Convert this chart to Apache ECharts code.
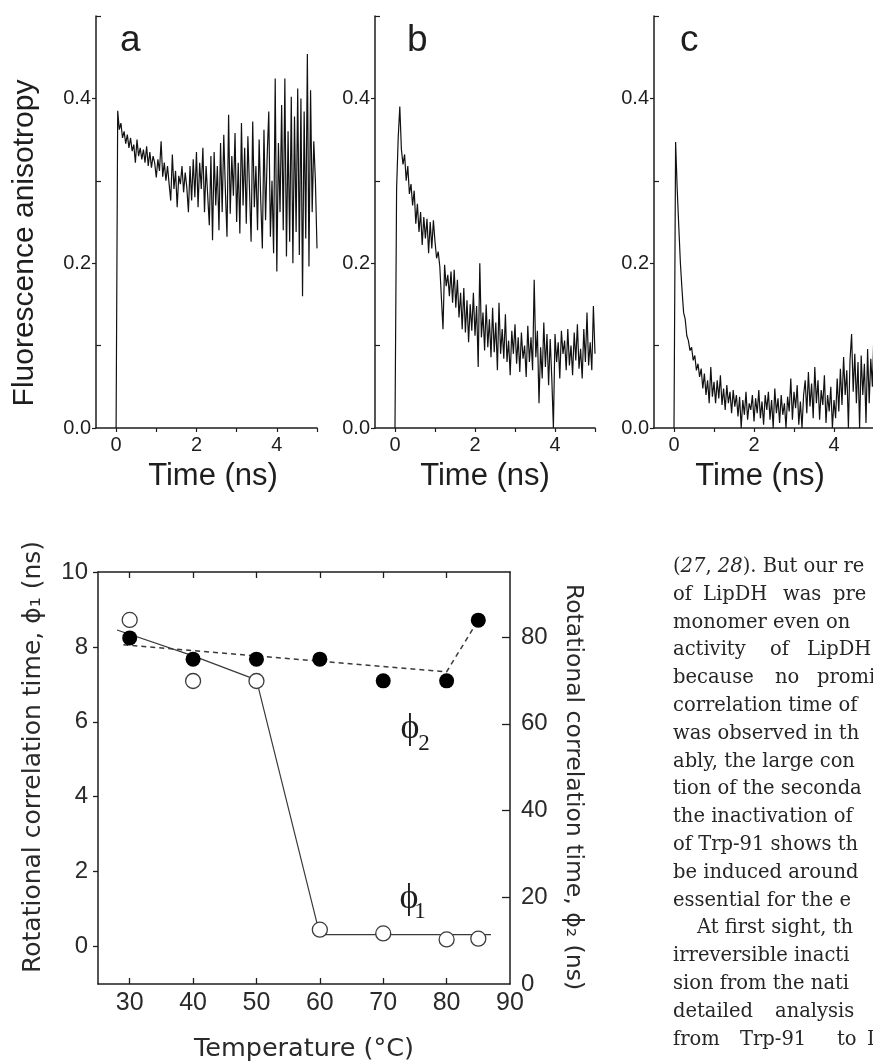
<!DOCTYPE html>
<html><head><meta charset="utf-8">
<script src="https://cdn.jsdelivr.net/npm/echarts@6/dist/echarts.min.js"></script>
<style>html,body{margin:0;padding:0;background:#fff}#c{width:873px;height:1064px}</style>
</head><body><div id="c"></div>
<script>
// ---------- data ----------
const timeStepNs = 0.04;
const anisotropyA = [0, 0.385,0.362,0.370,0.352,0.360,0.345,0.356,0.340,0.352,0.336,
 0.344,0.322,0.350,0.330,0.340,0.326,0.338,0.322,0.342,0.318,
 0.335,0.316,0.330,0.322,0.304,0.326,0.312,0.348,0.305,0.322,
 0.300,0.318,0.296,0.276,0.332,0.290,0.312,0.268,0.306,0.296,
 0.318,0.286,0.310,0.292,0.262,0.318,0.276,0.326,0.280,0.335,
 0.268,0.322,0.290,0.340,0.262,0.318,0.282,0.246,0.330,0.228,
 0.335,0.270,0.318,0.240,0.346,0.262,0.356,0.288,0.232,0.380,
 0.260,0.330,0.282,0.358,0.250,0.322,0.236,0.370,0.270,0.340,
 0.248,0.354,0.290,0.226,0.372,0.268,0.318,0.240,0.350,0.276,
 0.218,0.362,0.252,0.330,0.384,0.232,0.300,0.212,0.424,0.190,
 0.346,0.262,0.392,0.240,0.424,0.208,0.360,0.226,0.402,0.200,
 0.378,0.238,0.412,0.210,0.400,0.160,0.384,0.230,0.454,0.196,
 0.410,0.262,0.348,0.300,0.218];
const anisotropyB = [0, 0.290,0.352,0.390,0.338,0.320,0.332,0.300,0.318,0.284,0.296,
 0.270,0.288,0.248,0.272,0.238,0.262,0.222,0.256,0.230,0.254,
 0.212,0.250,0.218,0.252,0.226,0.206,0.214,0.196,0.198,0.120,
 0.198,0.172,0.186,0.160,0.190,0.152,0.192,0.146,0.180,0.134,
 0.164,0.120,0.170,0.116,0.155,0.104,0.150,0.118,0.164,0.112,
 0.148,0.074,0.200,0.110,0.140,0.094,0.150,0.098,0.132,0.086,
 0.146,0.092,0.128,0.070,0.152,0.090,0.120,0.084,0.138,0.080,
 0.106,0.064,0.118,0.090,0.126,0.078,0.110,0.068,0.116,0.084,
 0.100,0.062,0.124,0.080,0.110,0.070,0.180,0.086,0.118,0.030,
 0.098,0.060,0.128,0.074,0.114,0.052,0.108,0.060,0.000,0.114,
 0.080,0.104,0.060,0.118,0.090,0.106,0.070,0.120,0.076,0.100,
 0.064,0.116,0.082,0.126,0.072,0.096,0.060,0.120,0.080,0.140,
 0.076,0.104,0.070,0.148,0.090];
const anisotropyC = [0, 0.347,0.290,0.244,0.200,0.168,0.140,0.132,0.112,0.106,0.094,
 0.098,0.082,0.088,0.070,0.078,0.062,0.072,0.048,0.066,0.040,
 0.058,0.030,0.074,0.038,0.056,0.030,0.058,0.036,0.064,0.028,
 0.048,0.022,0.052,0.030,0.044,0.018,0.046,0.026,0.040,0.014,
 0.038,0.000,0.034,0.016,0.044,0.010,0.030,0.022,0.040,0.008,
 0.036,0.018,0.046,0.012,0.032,0.004,0.040,0.022,0.044,0.010,
 0.034,0.000,0.048,0.018,0.036,0.006,0.040,0.016,0.030,0.000,
 0.038,0.020,0.060,0.010,0.044,0.024,0.052,0.004,0.032,0.000,
 0.040,0.058,0.018,0.068,0.026,0.054,0.012,0.074,0.030,0.058,
 0.010,0.046,0.028,0.064,0.006,0.040,0.020,0.050,0.000,0.034,
 0.012,0.060,0.020,0.072,0.028,0.086,0.040,0.070,0.000,0.082,
 0.114,0.044,0.090,0.030,0.080,0.000,0.088,0.040,0.078,0.006,
 0.096,0.030,0.084,0.050,0.120];
const panelLetters = ['a', 'b', 'c'];
const timeTickLabels = [0, 2, 4];
const timeTicks = [0, 1, 2, 3, 4, 5];
const anisoTickLabels = [0, 0.2, 0.4];
const anisoMinorTicks = [0.1, 0.3, 0.5];

const temperatures = [30, 40, 50, 60, 70, 80, 85];
const phi1Ns = [8.72, 7.09, 7.09, 0.45, 0.35, 0.19, 0.21];
const phi2Ns = [79.8, 74.9, 74.9, 74.9, 69.9, 69.9, 83.9];
const phi1FitT = [28, 40, 50, 60, 87];
const phi1FitNs = [8.45, 7.76, 7.12, 0.32, 0.32];
const phi2FitT = [29, 80, 85];
const phi2FitNs = [78.2, 72.0, 83.9];
const tempTickLabels = [30, 40, 50, 60, 70, 80, 90];
const tempTicks = [30, 40, 50, 60, 70, 80];
const phi1TickLabels = [0, 2, 4, 6, 8, 10];
const phi2TickLabels = [0, 20, 40, 60, 80];
const phi2Ticks = [20, 40, 60, 80];

const bodyLines = [
  [['({i|27}, {i|28}). But our re', 673]],
  [['of', 673], ['LipDH', 703], ['was', 783], ['pre', 833]],
  [['monomer even on', 673]],
  [['activity', 673], ['of', 770], ['LipDH', 807]],
  [['because', 673], ['no', 775], ['promi', 817]],
  [['correlation time of', 673]],
  [['was observed in th', 673]],
  [['ably, the large con', 673]],
  [['tion of the seconda', 673]],
  [['the inactivation of', 673]],
  [['of Trp-91 shows th', 673]],
  [['be induced around', 673]],
  [['essential for the e', 673]],
  [['At first sight, th', 697]],
  [['irreversible inacti', 673]],
  [['sion from the nati', 673]],
  [['detailed', 673], ['analysis', 775]],
  [['from', 673], ['Trp-91', 740], ['to', 837], ['I', 867]]
];

// ---------- build ----------
const SANS = '"Liberation Sans", Arial, sans-serif';
const WIDE = '"DejaVu Sans", "Liberation Sans", sans-serif';
const SERIF = '"DejaVu Serif", serif';
const INK = '#1e1e1e';
const pair = (xs, ys) => ys.map((v, i) => [xs[i], v]);
const times = anisotropyA.map((_, i) => +(i * timeStepNs).toFixed(2));

const topGrids = [
  { left: 96, top: 16, width: 221, height: 412 },
  { left: 375, top: 16, width: 220, height: 412 },
  { left: 654, top: 16, width: 220, height: 412 }
];
const grids = topGrids.concat([{ left: 98, top: 572, width: 412, height: 412 }])
  .map(g => Object.assign({ containLabel: false, outerBoundsMode: 'none' }, g));

const axisLine = { show: true, onZero: false, lineStyle: { color: INK, width: 1.5 } };
const noLine = { show: false, onZero: false };
const xAxes = [], yAxes = [], series = [];
[anisotropyA, anisotropyB, anisotropyC].forEach((vals, k) => {
  xAxes.push({
    type: 'value', gridIndex: k, min: -0.5, max: 5, position: 'bottom',
    axisLine, splitLine: { show: false },
    axisTick: { show: true, customValues: timeTicks, length: 4, lineStyle: { color: INK, width: 1.2 } },
    axisLabel: { customValues: timeTickLabels, margin: 7, fontSize: 20, fontFamily: SANS, color: INK }
  });
  yAxes.push({
    type: 'value', gridIndex: k, min: 0, max: 0.5, position: 'left',
    axisLine, splitLine: { show: false },
    axisTick: { show: true, customValues: anisoTickLabels, length: 4, lineStyle: { color: INK, width: 1.2 } },
    axisLabel: { customValues: anisoTickLabels, margin: 5, fontSize: 20, fontFamily: SANS, color: INK,
      formatter: v => v.toFixed(1) }
  });
  yAxes.push({
    type: 'value', gridIndex: k, min: 0, max: 0.5, position: 'left',
    axisLine: noLine, splitLine: { show: false }, axisLabel: { show: false },
    axisTick: { show: true, inside: true, customValues: anisoMinorTicks, length: 5, lineStyle: { color: INK, width: 1.2 } }
  });
  series.push({
    type: 'line', xAxisIndex: k, yAxisIndex: 2 * k, data: pair(times, vals),
    showSymbol: false, symbol: 'none', lineStyle: { color: '#111', width: 1.2 }, silent: true
  });
});

// bottom chart axes
xAxes.push({
  type: 'value', gridIndex: 3, min: 25, max: 90, position: 'bottom',
  axisLine, splitLine: { show: false },
  axisTick: { show: true, inside: true, customValues: tempTicks, length: 6, lineStyle: { color: INK, width: 1.3 } },
  axisLabel: { customValues: tempTickLabels, margin: 7, fontSize: 25, fontFamily: SANS, color: '#2a2a2a' }
});
xAxes.push({
  type: 'value', gridIndex: 3, min: 25, max: 90, position: 'top',
  axisLine, splitLine: { show: false }, axisLabel: { show: false },
  axisTick: { show: true, inside: true, customValues: tempTicks, length: 6, lineStyle: { color: INK, width: 1.3 } }
});
yAxes.push({
  type: 'value', gridIndex: 3, min: -1, max: 10, position: 'left',
  axisLine, splitLine: { show: false },
  axisTick: { show: true, customValues: phi1TickLabels, length: 5, lineStyle: { color: INK, width: 1.3 } },
  axisLabel: { customValues: phi1TickLabels, margin: 10, fontSize: 24, fontFamily: SANS, color: '#2a2a2a' }
});
yAxes.push({
  type: 'value', gridIndex: 3, min: 0, max: 95, position: 'right',
  axisLine, splitLine: { show: false },
  axisTick: { show: true, inside: true, customValues: phi2Ticks, length: 8, lineStyle: { color: INK, width: 1.3 } },
  axisLabel: { customValues: phi2TickLabels, margin: 11, fontSize: 24, fontFamily: SANS, color: '#2a2a2a' }
});

series.push({
  name: 'phi1 fit', type: 'line', xAxisIndex: 3, yAxisIndex: 6, data: pair(phi1FitT, phi1FitNs),
  symbol: 'none', lineStyle: { color: '#3a3a3a', width: 1.2 }, z: 2, silent: true
});
series.push({
  name: 'phi2 fit', type: 'line', xAxisIndex: 3, yAxisIndex: 7, data: pair(phi2FitT, phi2FitNs),
  symbol: 'none', lineStyle: { color: '#3a3a3a', width: 1.5, type: [5, 4] }, z: 2, silent: true
});
series.push({
  name: 'phi1', type: 'scatter', xAxisIndex: 3, yAxisIndex: 6, data: pair(temperatures, phi1Ns),
  symbol: 'circle', symbolSize: 15, itemStyle: { color: '#fff', borderColor: '#3c3c3c', borderWidth: 1.3, opacity: 1 }, z: 3
});
series.push({
  name: 'phi2', type: 'scatter', xAxisIndex: 3, yAxisIndex: 7, data: pair(temperatures, phi2Ns),
  symbol: 'circle', symbolSize: 15, itemStyle: { color: '#000', opacity: 1 }, z: 3
});

// ---------- texts ----------
const txt = (text, x, y, size, opts = {}) => Object.assign({
  type: 'text', x, y, silent: true,
  style: Object.assign({ text, fontSize: size, fontFamily: SANS, fill: INK, align: 'center', verticalAlign: 'middle' }, opts.style || {})
}, opts.el || {});

const graphics = [];
const letterX = [120, 407, 680];
panelLetters.forEach((l, k) => graphics.push(txt(l, letterX[k], 41, 37, { style: { align: 'left' } })));
graphics.push(txt('Fluorescence anisotropy', 25, 243, 30, { el: { rotation: Math.PI / 2 } }));
[213, 485, 760].forEach(cx => graphics.push(txt('Time (ns)', cx, 476, 31)));

graphics.push(txt('Rotational correlation time, \u03D5\u2081 (ns)', 33, 757, 25, { el: { rotation: Math.PI / 2 }, style: { fill: '#2a2a2a', fontFamily: WIDE } }));
graphics.push(txt('Rotational correlation time, \u03D5\u2082 (ns)', 573, 787, 23.5, { el: { rotation: -Math.PI / 2 }, style: { fill: '#2a2a2a', fontFamily: WIDE } }));
graphics.push(txt('Temperature (\u00B0C)', 304, 1049, 25.5, { style: { fill: '#2a2a2a', fontFamily: WIDE } }));
const PHI_FONT = '"Liberation Serif", "DejaVu Serif", serif';
graphics.push(txt('\u03D5', 410, 729, 36, { style: { fontFamily: PHI_FONT } }));
graphics.push(txt('2', 424, 744, 23, { style: { fontFamily: PHI_FONT } }));
graphics.push(txt('\u03D5', 409, 899, 36, { style: { fontFamily: PHI_FONT } }));
graphics.push(txt('1', 420, 912, 23, { style: { fontFamily: PHI_FONT } }));

bodyLines.forEach((pieces, i) => {
  const y = 567 + 27.8 * i;
  pieces.forEach(([t, x]) => graphics.push({
    type: 'text', x, y, silent: true,
    style: {
      text: t, fontSize: 19.5, fontFamily: SERIF, fill: '#262626', align: 'left', verticalAlign: 'middle',
      rich: { i: { fontStyle: 'italic', fontSize: 19.5, fontFamily: SERIF, fill: '#262626' } }
    }
  }));
});

const chart = echarts.init(document.getElementById('c'), null, { renderer: 'canvas' });
chart.setOption({
  backgroundColor: '#fff',
  animation: false,
  grid: grids,
  xAxis: xAxes,
  yAxis: yAxes,
  series,
  graphic: graphics
});
</script></body></html>
